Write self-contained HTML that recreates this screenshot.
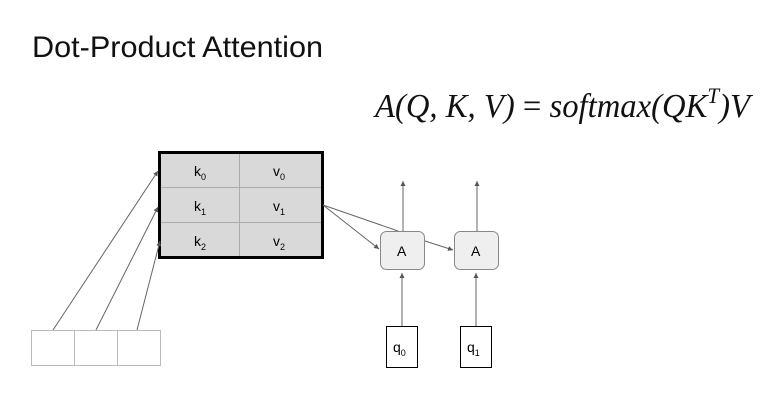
<!DOCTYPE html>
<html><head><meta charset="utf-8"><style>
body{margin:0;background:#fff;width:779px;height:400px;overflow:hidden;position:relative;font-family:"Liberation Sans",sans-serif}
</style></head><body>
<svg width="779" height="400" style="position:absolute;left:0;top:0" font-family="Liberation Sans, sans-serif">
<defs><marker id="a" markerWidth="6" markerHeight="6" refX="5" refY="3" orient="auto"><path d="M0,0.5L5,3L0,5.5z" fill="#555"/></marker></defs>
<text x="32" y="57" font-size="30" fill="#111" textLength="291" lengthAdjust="spacingAndGlyphs">Dot-Product Attention</text>
<text x="375" y="117" font-family="Liberation Serif, serif" font-style="italic" font-size="34" fill="#111" textLength="375" lengthAdjust="spacingAndGlyphs">A(Q, K, V) <tspan font-style="normal">=</tspan> softmax(QK<tspan font-size="22" dy="-14">T</tspan><tspan dy="14">)V</tspan></text>
<rect x="159.5" y="152.5" width="163" height="105" fill="#d9d9d9" stroke="#000" stroke-width="3"/>
<g stroke="#aaa" stroke-width="1"><line x1="161" y1="187.5" x2="321" y2="187.5"/><line x1="161" y1="222.5" x2="321" y2="222.5"/><line x1="239.5" y1="154" x2="239.5" y2="256"/></g>
<g font-size="14" fill="#000">
<text x="194" y="176">k<tspan font-size="9" dy="4">0</tspan></text>
<text x="194" y="211">k<tspan font-size="9" dy="4">1</tspan></text>
<text x="194" y="246">k<tspan font-size="9" dy="4">2</tspan></text>
<text x="273" y="176">v<tspan font-size="9" dy="4">0</tspan></text>
<text x="273" y="211">v<tspan font-size="9" dy="4">1</tspan></text>
<text x="273" y="246">v<tspan font-size="9" dy="4">2</tspan></text>
</g>
<g fill="none" stroke="#bbb"><rect x="31.5" y="330.5" width="129" height="35"/><line x1="74.5" y1="330" x2="74.5" y2="366"/><line x1="117.5" y1="330" x2="117.5" y2="366"/></g>
<g stroke="#666" stroke-width="1" marker-end="url(#a)">
<line x1="53" y1="330" x2="158" y2="171"/>
<line x1="96" y1="330" x2="158" y2="207"/>
<line x1="137" y1="330" x2="160" y2="241"/>
<line x1="323" y1="205" x2="379" y2="249"/>
<line x1="425" y1="241" x2="453" y2="250"/>
<line x1="403" y1="231" x2="403" y2="181"/>
<line x1="477" y1="231" x2="477" y2="181"/>
<line x1="402" y1="326" x2="402" y2="273"/>
<line x1="476" y1="326" x2="476" y2="273"/>
</g>
<line x1="323" y1="205" x2="398" y2="231" stroke="#666"/>
<rect x="380.5" y="231.5" width="44" height="38" rx="6" fill="#efefef" stroke="#888"/>
<rect x="454.5" y="231.5" width="44" height="38" rx="6" fill="#efefef" stroke="#888"/>
<text x="397" y="256" font-size="14">A</text><text x="471" y="256" font-size="14">A</text>
<rect x="386.5" y="326.5" width="31" height="41" fill="#fff" stroke="#000"/>
<rect x="460.5" y="326.5" width="31" height="41" fill="#fff" stroke="#000"/>
<text x="393" y="352" font-size="14">q<tspan font-size="9" dy="4">0</tspan></text>
<text x="467" y="352" font-size="14">q<tspan font-size="9" dy="4">1</tspan></text>
</svg>
</body></html>
